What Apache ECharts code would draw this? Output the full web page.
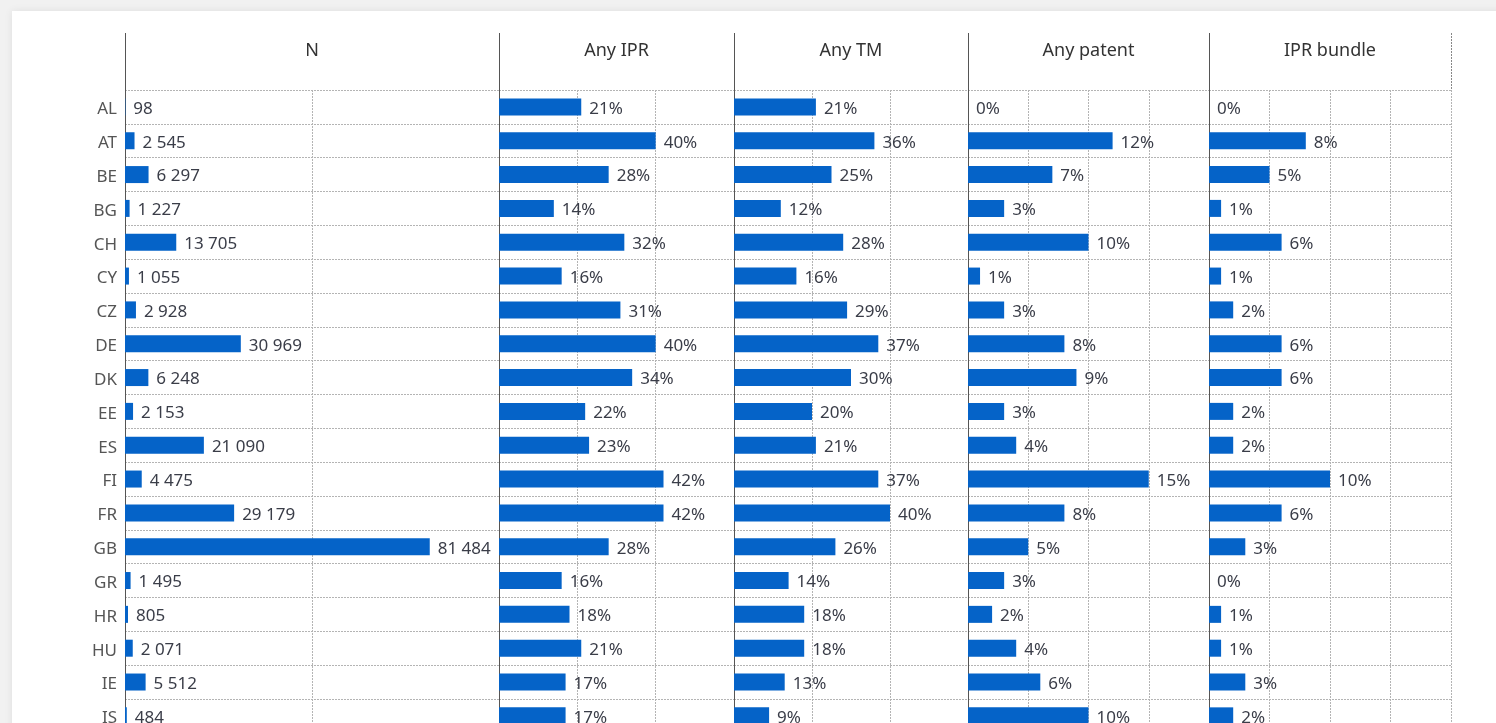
<!DOCTYPE html>
<html>
<head>
<meta charset="utf-8">
<script src="https://cdn.jsdelivr.net/npm/echarts@6/dist/echarts.min.js"></script>
<style>
  html, body { margin: 0; padding: 0; overflow: hidden; background: #f1f1f1; }
  #card { position: absolute; left: 12px; top: 11px; width: 1520px; height: 800px; background: #fff;
          box-shadow: 0 0 8px rgba(0,0,0,0.08); }
  #chart { position: absolute; left: 0; top: 0; width: 1496px; height: 760px; }
</style>
</head>
<body>
<div id="card"></div>
<div id="chart"></div>
<script>
// countries (rows, top to bottom)
var countries = ['AL','AT','BE','BG','CH','CY','CZ','DE','DK','EE','ES','FI','FR','GB','GR','HR','HU','IE','IS'];

// number of firms
var nFirms = [98, 2545, 6297, 1227, 13705, 1055, 2928, 30969, 6248, 2153, 21090, 4475, 29179, 81484, 1495, 805, 2071, 5512, 484];
// shares in %
var anyIPR    = [21, 40, 28, 14, 32, 16, 31, 40, 34, 22, 23, 42, 42, 28, 16, 18, 21, 17, 17];
var anyTM     = [21, 36, 25, 12, 28, 16, 29, 37, 30, 20, 21, 37, 40, 26, 14, 18, 18, 13, 9];
var anyPatent = [0, 12, 7, 3, 10, 1, 3, 8, 9, 3, 4, 15, 8, 5, 3, 2, 4, 6, 10];
var iprBundle = [0, 8, 5, 1, 6, 1, 2, 6, 6, 2, 2, 10, 6, 3, 0, 1, 1, 3, 2];

var panelTitles = ['N', 'Any IPR', 'Any TM', 'Any patent', 'IPR bundle'];
var panelData = [nFirms, anyIPR, anyTM, anyPatent, iprBundle];
var panelMax = [100000, 60, 60, 20, 20];
var panelStep = [50000, 20, 20, 5, 5];

// layout
var lefts = [125, 499, 734, 968, 1209];
var widths = [374, 235, 234, 241, 242];
var gridTop = 90, rowH = 33.83, headTop = 33;

var blue = '#0563c8';
var dotted = {color: '#b4b4b4', width: 1, type: [2, 1]};

function fmtN(v) {
    return String(v).replace(/\B(?=(\d{3})+(?!\d))/g, ' ');
}

var chart = echarts.init(document.getElementById('chart'));

var grids = [], xAxes = [], yAxes = [], series = [], graphics = [];
for (var i = 0; i < 5; i++) {
    grids.push({left: lefts[i], width: widths[i], top: gridTop, height: rowH * countries.length});
    xAxes.push({
        gridIndex: i, type: 'value', position: 'top', min: 0, max: panelMax[i], interval: panelStep[i],
        axisLine: {show: false}, axisTick: {show: false}, axisLabel: {show: false},
        splitLine: {show: true, lineStyle: dotted},
        name: panelTitles[i], nameLocation: 'middle', nameGap: 30,
        nameTextStyle: {fontFamily: 'Noto Sans', fontSize: 18, color: '#333'}
    });
    yAxes.push({
        gridIndex: i, type: 'category', data: countries, inverse: true,
        axisLine: {show: true, lineStyle: {color: '#555', width: 1}},
        axisTick: {show: false},
        axisLabel: {
            show: i === 0, margin: 8,
            formatter: '{c|{value}}',
            rich: {c: {fontFamily: 'Noto Sans', fontSize: 17, color: '#555', padding: [5, 0, 0, 0]}}
        },
        splitLine: {show: true, interval: 0, lineStyle: dotted}
    });
    series.push({
        type: 'bar', xAxisIndex: i, yAxisIndex: i, data: panelData[i], barWidth: 17,
        itemStyle: {color: blue},
        label: {
            show: true, position: 'right', distance: 8, offset: [0, 2],
            fontFamily: 'Noto Sans', fontSize: 17, color: '#3a3d48',
            formatter: i === 0 ? function (p) { return fmtN(p.value); } : '{c}%'
        },
        silent: true
    });
    // axis lines continue up through the header row
    graphics.push({
        type: 'line', shape: {x1: lefts[i] + 0.5, y1: headTop, x2: lefts[i] + 0.5, y2: gridTop},
        style: {stroke: '#555', lineWidth: 1}
    });
}
var rightEdge = lefts[4] + widths[4];
graphics.push({
    type: 'line', shape: {x1: rightEdge + 0.5, y1: headTop, x2: rightEdge + 0.5, y2: gridTop},
    style: {stroke: '#888', lineWidth: 1, lineDash: [2, 1]}
});

var option = {
    animation: false,
    grid: grids,
    xAxis: xAxes,
    yAxis: yAxes,
    series: series,
    graphic: graphics
};
chart.setOption(option);
</script>
</body>
</html>
